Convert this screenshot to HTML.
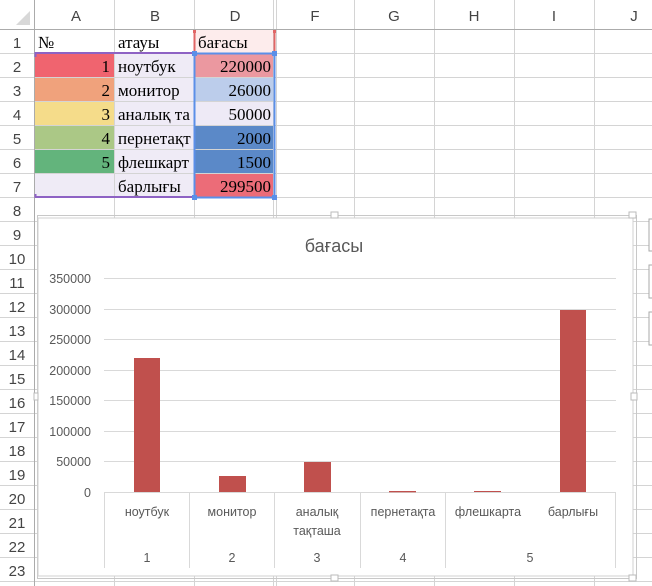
<!DOCTYPE html>
<html><head><meta charset="utf-8"><style>
body{margin:0;width:652px;height:586px;overflow:hidden;background:#fff}
svg{display:block}
.h{font-family:"Liberation Sans",sans-serif;font-size:15px;fill:#444}
.c{font-family:"Liberation Serif",serif;font-size:17px;fill:#000}
.a{font-family:"Liberation Sans",sans-serif;font-size:12.5px;fill:#595959}
</style></head><body>
<svg width="652" height="586" xmlns="http://www.w3.org/2000/svg">
<rect width="652" height="586" fill="#fff"/>
<!-- cell fills -->
<rect x="35" y="54" width="79" height="24" fill="#F0646F"/>
<rect x="35" y="78" width="79" height="24" fill="#F0A27C"/>
<rect x="35" y="102" width="79" height="24" fill="#F5DC8A"/>
<rect x="35" y="126" width="79" height="24" fill="#ABC886"/>
<rect x="35" y="150" width="79" height="24" fill="#63B47C"/>
<rect x="35" y="174" width="79" height="24" fill="#EFEBF6"/>
<rect x="114" y="54" width="80" height="144" fill="#EFEBF6"/>
<rect x="195" y="30" width="79" height="24" fill="#FDECEC"/>
<rect x="195" y="54" width="79" height="24" fill="#EB98A0"/>
<rect x="195" y="78" width="79" height="24" fill="#BCCDEB"/>
<rect x="195" y="102" width="79" height="24" fill="#EEEAF6"/>
<rect x="195" y="126" width="79" height="48" fill="#5B89C8"/>
<rect x="195" y="174" width="79" height="24" fill="#EC6C78"/>
<!-- gridlines -->
<g stroke="#d4d4d4" stroke-width="1">
<line x1="114.5" y1="0" x2="114.5" y2="586"/><line x1="194.5" y1="0" x2="194.5" y2="586"/>
<line x1="273.5" y1="0" x2="273.5" y2="586"/><line x1="276.5" y1="0" x2="276.5" y2="586"/>
<line x1="354.5" y1="0" x2="354.5" y2="586"/><line x1="434.5" y1="0" x2="434.5" y2="586"/>
<line x1="514.5" y1="0" x2="514.5" y2="586"/><line x1="594.5" y1="0" x2="594.5" y2="586"/>
<g id="rows">
<line x1="0" y1="53.5" x2="652" y2="53.5"/><line x1="0" y1="77.5" x2="652" y2="77.5"/>
<line x1="0" y1="101.5" x2="652" y2="101.5"/><line x1="0" y1="125.5" x2="652" y2="125.5"/>
<line x1="0" y1="149.5" x2="652" y2="149.5"/><line x1="0" y1="173.5" x2="652" y2="173.5"/>
<line x1="0" y1="197.5" x2="652" y2="197.5"/><line x1="0" y1="221.5" x2="652" y2="221.5"/>
<line x1="0" y1="245.5" x2="652" y2="245.5"/><line x1="0" y1="269.5" x2="652" y2="269.5"/>
<line x1="0" y1="293.5" x2="652" y2="293.5"/><line x1="0" y1="317.5" x2="652" y2="317.5"/>
<line x1="0" y1="341.5" x2="652" y2="341.5"/><line x1="0" y1="365.5" x2="652" y2="365.5"/>
<line x1="0" y1="389.5" x2="652" y2="389.5"/><line x1="0" y1="413.5" x2="652" y2="413.5"/>
<line x1="0" y1="437.5" x2="652" y2="437.5"/><line x1="0" y1="461.5" x2="652" y2="461.5"/>
<line x1="0" y1="485.5" x2="652" y2="485.5"/><line x1="0" y1="509.5" x2="652" y2="509.5"/>
<line x1="0" y1="533.5" x2="652" y2="533.5"/><line x1="0" y1="557.5" x2="652" y2="557.5"/>
<line x1="0" y1="581.5" x2="652" y2="581.5"/>
</g>
</g>
<!-- headers -->
<rect x="0" y="0" width="652" height="29" fill="#fff"/>
<rect x="0" y="0" width="34" height="586" fill="#fff"/>
<g stroke="#d4d4d4"><line x1="114.5" y1="0" x2="114.5" y2="29"/><line x1="194.5" y1="0" x2="194.5" y2="29"/><line x1="273.5" y1="0" x2="273.5" y2="29"/><line x1="276.5" y1="0" x2="276.5" y2="29"/><line x1="354.5" y1="0" x2="354.5" y2="29"/><line x1="434.5" y1="0" x2="434.5" y2="29"/><line x1="514.5" y1="0" x2="514.5" y2="29"/><line x1="594.5" y1="0" x2="594.5" y2="29"/>
<use href="#rows" transform="translate(-618,0)"/></g>
<line x1="0" y1="29.5" x2="652" y2="29.5" stroke="#ababab"/>
<line x1="34.5" y1="0" x2="34.5" y2="586" stroke="#ababab"/>
<polygon points="16,25 30,25 30,11" fill="#d8d8d8"/>
<g class="h" text-anchor="middle">
<text x="76" y="21">A</text><text x="155" y="21">B</text><text x="235" y="21">D</text><text x="315" y="21">F</text><text x="394" y="21">G</text><text x="474" y="21">H</text><text x="554" y="21">I</text><text x="634" y="21">J</text>
<text x="17" y="48">1</text><text x="17" y="72">2</text><text x="17" y="96">3</text><text x="17" y="120">4</text><text x="17" y="144">5</text><text x="17" y="168">6</text><text x="17" y="192">7</text><text x="17" y="216">8</text><text x="17" y="240">9</text><text x="17" y="264">10</text><text x="17" y="288">11</text><text x="17" y="312">12</text><text x="17" y="336">13</text><text x="17" y="360">14</text><text x="17" y="384">15</text><text x="17" y="408">16</text><text x="17" y="432">17</text><text x="17" y="456">18</text><text x="17" y="480">19</text><text x="17" y="504">20</text><text x="17" y="528">21</text><text x="17" y="552">22</text><text x="17" y="576">23</text>
</g>
<!-- cell text -->
<g class="c">
<text x="38" y="48">№</text><text x="118" y="48">атауы</text><text x="198" y="48">бағасы</text>
<text x="118" y="72">ноутбук</text><text x="118" y="96">монитор</text><text x="118" y="120">аналық та</text><text x="118" y="144">пернетақт</text><text x="118" y="168">флешкарт</text><text x="118" y="192">барлығы</text>
</g>
<g class="c" text-anchor="end">
<text x="110" y="72">1</text><text x="110" y="96">2</text><text x="110" y="120">3</text><text x="110" y="144">4</text><text x="110" y="168">5</text>
<text x="271" y="72">220000</text><text x="271" y="96">26000</text><text x="271" y="120">50000</text><text x="271" y="144">2000</text><text x="271" y="168">1500</text><text x="271" y="192">299500</text>
</g>
<!-- selection borders -->
<rect x="35.5" y="30.5" width="1" height="0" fill="none"/>
<polyline points="35,53 194,53" stroke="#8E62C4" stroke-width="2" fill="none"/>
<polyline points="35,197 194,197" stroke="#8E62C4" stroke-width="2" fill="none"/>
<line x1="35.5" y1="52" x2="35.5" y2="57" stroke="#8E62C4" stroke-width="2"/>
<line x1="35.5" y1="194" x2="35.5" y2="198" stroke="#8E62C4" stroke-width="2"/>
<line x1="194.5" y1="30" x2="194.5" y2="53" stroke="#E06666" stroke-width="2"/>
<line x1="274.5" y1="30" x2="274.5" y2="53" stroke="#E06666" stroke-width="2"/>
<rect x="193" y="30" width="3" height="3" fill="#E06666"/><rect x="273" y="30" width="3" height="3" fill="#E06666"/>
<rect x="194.5" y="53.5" width="80" height="144" fill="none" stroke="#5B8FE8" stroke-width="2"/>
<g fill="#5B8FE8"><rect x="192" y="51" width="5" height="5"/><rect x="272" y="51" width="5" height="5"/><rect x="192" y="195" width="5" height="5"/><rect x="272" y="195" width="5" height="5"/></g>
<!-- chart -->
<rect x="37.5" y="215.5" width="599" height="363" fill="none" stroke="#c8c8c8"/>
<rect x="38" y="218" width="595" height="358" fill="#fff" stroke="#d0d0d0"/>
<g fill="#fff" stroke="#bbb"><rect x="331" y="212" width="7" height="6"/><rect x="629" y="212" width="7" height="6"/><rect x="331" y="575" width="7" height="6"/><rect x="629" y="575" width="7" height="6"/><rect x="631" y="393" width="6" height="7"/><rect x="34" y="393" width="4" height="7"/></g>
<g fill="#fff" stroke="#aaa"><rect x="649" y="219" width="8" height="32"/><rect x="649" y="265" width="8" height="33"/><rect x="649" y="312" width="8" height="33"/></g>
<text x="334" y="252" text-anchor="middle" style="font-family:'Liberation Sans',sans-serif;font-size:18px;fill:#595959">бағасы</text>
<g stroke="#d9d9d9">
<line x1="104" y1="278.5" x2="616" y2="278.5"/><line x1="104" y1="309.5" x2="616" y2="309.5"/><line x1="104" y1="339.5" x2="616" y2="339.5"/><line x1="104" y1="370.5" x2="616" y2="370.5"/><line x1="104" y1="400.5" x2="616" y2="400.5"/><line x1="104" y1="431.5" x2="616" y2="431.5"/><line x1="104" y1="461.5" x2="616" y2="461.5"/><line x1="104" y1="492.5" x2="616" y2="492.5"/>
<line x1="104.5" y1="492" x2="104.5" y2="568"/><line x1="189.5" y1="492" x2="189.5" y2="568"/><line x1="274.5" y1="492" x2="274.5" y2="568"/><line x1="360.5" y1="492" x2="360.5" y2="568"/><line x1="445.5" y1="492" x2="445.5" y2="568"/><line x1="615.5" y1="492" x2="615.5" y2="568"/>
</g>
<g fill="#C0504D">
<rect x="134" y="358" width="26" height="134"/><rect x="219" y="476" width="27" height="16"/><rect x="304" y="462" width="27" height="30"/><rect x="389" y="491" width="27" height="1.3"/><rect x="474" y="491" width="27" height="1"/><rect x="560" y="310" width="26" height="182"/>
</g>
<g class="a" text-anchor="end">
<text x="91" y="283">350000</text><text x="91" y="314">300000</text><text x="91" y="344">250000</text><text x="91" y="375">200000</text><text x="91" y="405">150000</text><text x="91" y="436">100000</text><text x="91" y="466">50000</text><text x="91" y="497">0</text>
</g>
<g class="a" text-anchor="middle">
<text x="147" y="516">ноутбук</text><text x="232" y="516">монитор</text><text x="317" y="516">аналық</text><text x="317" y="535">тақташа</text><text x="403" y="516">пернетақта</text><text x="488" y="516">флешкарта</text><text x="573" y="516">барлығы</text>
<text x="147" y="562">1</text><text x="232" y="562">2</text><text x="317" y="562">3</text><text x="403" y="562">4</text><text x="530" y="562">5</text>
</g>
</svg>
</body></html>
